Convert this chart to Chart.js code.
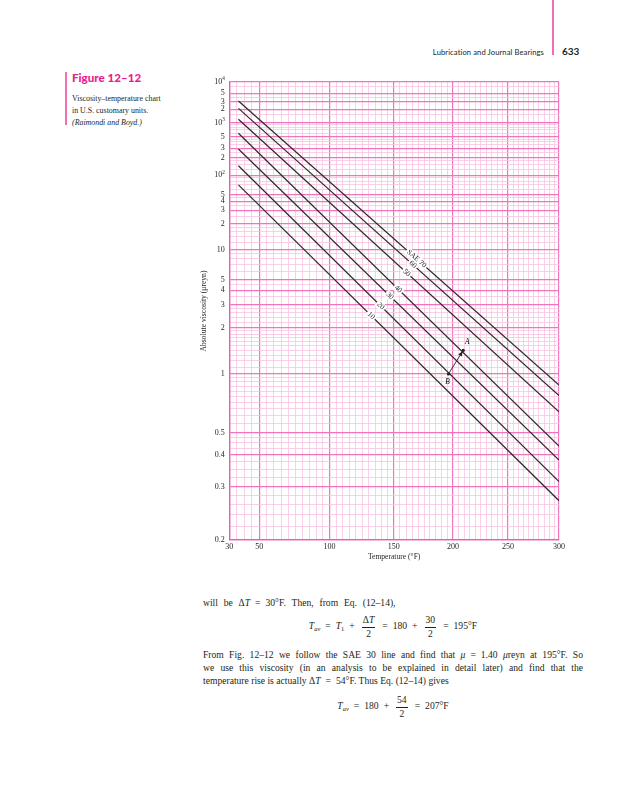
<!DOCTYPE html>
<html>
<head>
<meta charset="utf-8">
<script src="https://cdn.jsdelivr.net/npm/chart.js@4.4.1/dist/chart.umd.min.js"></script>
<style>
  body { margin: 0; background: #fff; }
  #page { position: relative; width: 626px; height: 800px; overflow: hidden;
          font-family: "Liberation Serif", "DejaVu Serif", serif; color: #231f20; }
  .bar { position: absolute; width: 2px; background: #ef6fb6; }
  #runhead { position: absolute; right: 82px; top: 47px; font: 7.6px Lato, "Open Sans", sans-serif; letter-spacing: 0.1px; }
  #folio { position: absolute; left: 562px; top: 45px; font: bold 10px Lato, "Open Sans", sans-serif; }
  #figno { position: absolute; left: 72px; top: 71px; font: 900 11.6px Lato, "Open Sans", sans-serif; color: #e8208c; }
  #caption { position: absolute; left: 72px; top: 93px; font-size: 7.9px; line-height: 12.2px; }
  #wrap { position: absolute; left: 195px; top: 72px; width: 390px; height: 500px; }
  .txt { position: absolute; left: 203px; width: 380px; font-size: 9.6px; line-height: 13px; }
  #para { text-align: justify; text-align-last: justify; }
  .eq { text-align: center; }
  .op { margin: 0 5px; }
  .frac { display: inline-block; vertical-align: middle; text-align: center; line-height: 10.5px; margin: 0 2px; }
  .frac span { display: block; padding: 0 1px; }
  .frac span:first-child { padding-bottom: 1px; }
  .frac span + span { border-top: 0.7px solid #231f20; padding-top: 1.5px; }
  sub { font-size: 6.5px; vertical-align: -2px; }
</style>
</head>
<body>
<div id="page">
  <div class="bar" style="left:552px; top:0; height:55px"></div>
  <div id="runhead">Lubrication and Journal Bearings</div>
  <div id="folio">633</div>

  <div class="bar" style="left:65px; top:72px; height:53px"></div>
  <div id="figno">Figure 12–12</div>
  <div id="caption">Viscosity–temperature chart<br>in U.S. customary units.<br><i>(Raimondi and Boyd.)</i></div>

  <div id="wrap"><canvas id="chart" width="390" height="500"></canvas></div>

  <div class="txt" style="top:596px; word-spacing:3.4px">will be Δ<i>T</i><span class="op">=</span>30°F. Then, from Eq. (12–14),</div>
  <div class="txt eq" style="top:615px"><i>T</i><sub><i>av</i></sub><span class="op">=</span><i>T</i><sub>1</sub><span class="op">+</span><span class="frac"><span>Δ<i>T</i></span><span>2</span></span><span class="op">=</span>180<span class="op">+</span><span class="frac"><span>30</span><span>2</span></span><span class="op">=</span>195°F</div>
  <div class="txt" id="para" style="top:648px">From Fig. 12–12 we follow the SAE 30 line and find that <i>μ</i><span class="op">=</span>1.40 <i>μ</i>reyn at 195°F. So<br>we use this viscosity (in an analysis to be explained in detail later) and find that the</div>
  <div class="txt" style="top:674px">temperature rise is actually Δ<i>T</i><span class="op">=</span>54°F. Thus Eq. (12–14) gives</div>
  <div class="txt eq" style="top:695px"><i>T</i><sub><i>av</i></sub><span class="op">=</span>180<span class="op">+</span><span class="frac"><span>54</span><span>2</span></span><span class="op">=</span>207°F</div>
</div>

<script>
// oil grades: viscosity (μreyn) where each line starts and ends
const grades = ['SAE 70', '60', '50', '40', '30', '20', '10'];
const lineTemps = [36, 300];
const viscStart = [3190, 2120, 1185, 592, 290, 144, 70];
const viscEnd = [0.866, 0.758, 0.627, 0.436, 0.381, 0.314, 0.268];

// the A -> B construction
const pointNames = ['B', 'A'];
const pointTemps = [196, 209];
const pointVisc = [1.0, 1.4];

// axis labels
const tempLabels = [30, 50, 100, 150, 200, 250, 300];
const viscLabelValues = [10000, 5000, 3000, 2000, 1000, 500, 300, 200, 100, 50, 40, 30, 20, 10, 5, 4, 3, 2, 1, 0.5, 0.4, 0.3, 0.2];
const viscLabelText = ['10^4', '5', '3', '2', '10^3', '5', '3', '2', '10^2', '5', '4', '3', '2', '10', '5', '4', '3', '2', '1', '0.5', '0.4', '0.3', '0.2'];

// chart paper: log log viscosity against log absolute temperature
const K = 8.6, C = 0.7, RANKINE = 459.67;
const walther = v => Math.log10(Math.log10(K * v + C));
const absT = t => Math.log10(t + RANKINE);

function steps(from, to, step) {
  const out = [];
  for (let v = from; v < to - step / 2; v += step) out.push(Number(v.toPrecision(6)));
  return out;
}
const viscGrid = [].concat(
  steps(0.2, 0.3, 0.02), steps(0.3, 0.5, 0.025), steps(0.5, 1, 0.05), steps(1, 2, 0.1),
  steps(2, 3, 0.2), steps(3, 5, 0.5), steps(5, 10, 1), steps(10, 20, 2), steps(20, 50, 5),
  steps(50, 100, 10), steps(100, 200, 25), steps(200, 500, 50), steps(500, 1000, 100),
  steps(1000, 2000, 500), steps(2000, 5000, 1000), steps(5000, 10000, 2500), [10000]
);
const tempGrid = steps(30, 300, 5).concat([300]);

class ViscosityScale extends Chart.Scale {
  determineDataLimits() { this.min = this.options.min; this.max = this.options.max; }
  buildTicks() { return viscGrid.map(v => ({ value: v })); }
  configure() {
    super.configure();
    this._lo = walther(this.min);
    this._span = walther(this.max) - this._lo;
  }
  getPixelForValue(v) { return this.getPixelForDecimal((walther(v) - this._lo) / this._span); }
  getValueForPixel(p) {
    const f = this._lo + this.getDecimalForPixel(p) * this._span;
    return (Math.pow(10, Math.pow(10, f)) - C) / K;
  }
}
ViscosityScale.id = 'walther';
ViscosityScale.defaults = {};

class TempScale extends Chart.Scale {
  determineDataLimits() { this.min = this.options.min; this.max = this.options.max; }
  buildTicks() { return tempGrid.map(v => ({ value: v })); }
  configure() {
    super.configure();
    this._lo = absT(this.min);
    this._span = absT(this.max) - this._lo;
  }
  getPixelForValue(v) { return this.getPixelForDecimal((absT(v) - this._lo) / this._span); }
  getValueForPixel(p) {
    return Math.pow(10, this._lo + this.getDecimalForPixel(p) * this._span) - RANKINE;
  }
}
TempScale.id = 'abstemp';
TempScale.defaults = {};

Chart.register(ViscosityScale, TempScale);

const ink = '#231f20';
const pinkMajor = '#f075bd';
const pinkMinor = '#f9c4e2';
const serif = 'Liberation Serif';
const tickSize = 8;
const tickPad = 4.5;

// grade names sit on their lines, at these temperatures
const labelAt = [168.7, 165.5, 160.5, 153.5, 146.8, 139.4, 131.8];

const lineLabels = {
  id: 'lineLabels',
  afterDatasetsDraw(chart) {
    const { ctx, scales: { x, y } } = chart;
    ctx.save();
    ctx.font = `7.4px "${serif}"`;
    ctx.textAlign = 'center';
    ctx.textBaseline = 'middle';
    grades.forEach((g, i) => {
      const x1 = x.getPixelForValue(lineTemps[0]), y1 = y.getPixelForValue(viscStart[i]);
      const x2 = x.getPixelForValue(lineTemps[1]), y2 = y.getPixelForValue(viscEnd[i]);
      const px = x.getPixelForValue(labelAt[i]);
      const py = y1 + (px - x1) / (x2 - x1) * (y2 - y1);
      const w = ctx.measureText(g).width + 3;
      ctx.save();
      ctx.translate(px, py);
      ctx.rotate(Math.atan2(y2 - y1, x2 - x1));
      ctx.fillStyle = '#fff';
      ctx.fillRect(-w / 2, -4, w, 8);
      ctx.fillStyle = ink;
      ctx.fillText(g, 0, 0);
      ctx.restore();
    });

    // A and B
    const bx = x.getPixelForValue(pointTemps[0]), by = y.getPixelForValue(pointVisc[0]);
    const ax = x.getPixelForValue(pointTemps[1]), ay = y.getPixelForValue(pointVisc[1]);
    ctx.save();
    ctx.translate(ax, ay);
    ctx.rotate(Math.atan2(ay - by, ax - bx));
    ctx.fillStyle = ink;
    ctx.beginPath();
    ctx.moveTo(-1, 0);
    ctx.lineTo(-6, -2);
    ctx.lineTo(-6, 2);
    ctx.closePath();
    ctx.fill();
    ctx.restore();
    ctx.font = `italic 7.4px "${serif}"`;
    ctx.fillText(pointNames[1], ax + 4, ay - 8);
    ctx.fillText(pointNames[0], bx - 1, by + 8);
    ctx.restore();
  }
};

// powers of ten on the viscosity axis, with a raised exponent
const decadeLabels = {
  id: 'decadeLabels',
  afterDraw(chart) {
    const { ctx, scales: { y } } = chart;
    ctx.save();
    ctx.fillStyle = ink;
    ctx.textBaseline = 'middle';
    viscLabelText.forEach((t, i) => {
      if (!t.includes('^')) return;
      const [base, exp] = t.split('^');
      const py = y.getPixelForValue(viscLabelValues[i]);
      const right = y.right - tickPad;
      ctx.font = `5.2px "${serif}"`;
      const ew = ctx.measureText(exp).width;
      ctx.textAlign = 'left';
      ctx.fillText(exp, right - ew, py - 3);
      ctx.font = `${tickSize}px "${serif}"`;
      ctx.textAlign = 'right';
      ctx.fillText(base, right - ew, py);
    });
    ctx.restore();
  }
};

const datasets = grades.map((g, i) => ({
  label: g,
  data: [{ x: lineTemps[0], y: viscStart[i] }, { x: lineTemps[1], y: viscEnd[i] }],
  borderColor: '#2a2a2a',
  borderWidth: 1.2,
  pointRadius: 0
}));
datasets.push({
  label: 'A-B',
  data: pointTemps.map((t, i) => ({ x: t, y: pointVisc[i] })),
  borderColor: ink,
  backgroundColor: ink,
  borderWidth: 0.9,
  pointRadius: 1.6,
  pointBorderWidth: 0
});

new Chart(document.getElementById('chart'), {
  type: 'line',
  data: { datasets },
  options: {
    responsive: false,
    animation: false,
    layout: { padding: { top: 10, right: 26, left: 0, bottom: 0 } },
    plugins: { legend: { display: false }, tooltip: { enabled: false } },
    scales: {
      x: {
        type: 'abstemp',
        position: 'bottom',
        min: 30,
        max: 300,
        grid: {
          drawTicks: false,
          color: c => tempLabels.includes(c.tick.value) ? pinkMajor : pinkMinor,
          lineWidth: c => tempLabels.includes(c.tick.value) ? 1.2 : 0.8
        },
        border: { color: '#ec5aae', width: 1.3 },
        ticks: {
          autoSkip: false,
          maxRotation: 0,
          padding: 2,
          color: ink,
          font: { family: serif, size: tickSize },
          callback: v => tempLabels.includes(v) ? String(v) : ''
        },
        title: {
          display: true,
          text: 'Temperature (°F)',
          color: ink,
          font: { family: serif, size: 7.6 },
          padding: { top: 0, bottom: 10 }
        },
        afterFit: s => { s.height = 32; }
      },
      y: {
        type: 'walther',
        position: 'left',
        min: 0.2,
        max: 10000,
        grid: {
          drawTicks: false,
          color: c => viscLabelValues.includes(c.tick.value) ? pinkMajor : pinkMinor,
          lineWidth: c => viscLabelValues.includes(c.tick.value) ? 1.2 : 0.8
        },
        border: { color: '#ec5aae', width: 1.3 },
        ticks: {
          autoSkip: false,
          padding: tickPad,
          color: ink,
          font: { family: serif, size: tickSize },
          callback: v => {
            const k = viscLabelValues.indexOf(v);
            return k >= 0 && !viscLabelText[k].includes('^') ? viscLabelText[k] : '';
          }
        },
        title: {
          display: true,
          text: 'Absolute viscosity (μreyn)',
          color: ink,
          font: { family: serif, size: 7.6 },
          padding: { top: 4.5, bottom: 0 }
        },
        afterFit: s => { s.width = 34.3; }
      }
    }
  },
  plugins: [lineLabels, decadeLabels]
});
</script>
</body>
</html>
